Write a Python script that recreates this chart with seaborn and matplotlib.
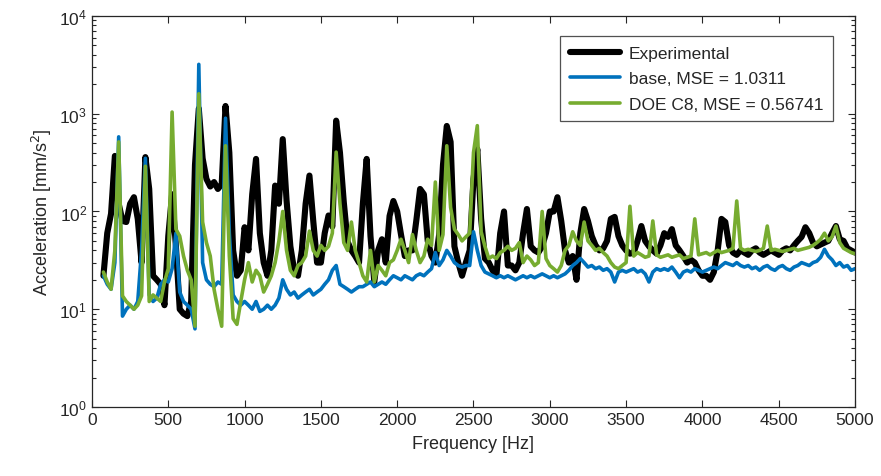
import numpy as np
import pandas as pd
import matplotlib
matplotlib.use("Agg")
import matplotlib.pyplot as plt
import seaborn as sns

# Frequency grid [Hz]
freq = list(range(75, 5001, 25))

experimental = [
    22, 60, 95, 370, 120, 80, 78, 120, 140, 84, 30, 360, 170, 22, 20, 18, 11, 56, 150, 44,
    10, 9, 8.5, 12, 300, 1130, 350, 215, 180, 200, 170, 190, 1200, 400, 40, 22, 25, 69, 40, 150,
    345, 60, 30, 22, 40, 184, 120, 550, 130, 44, 25, 22, 40, 120, 233, 80, 30, 30, 60, 91,
    70, 850, 400, 125, 49, 40, 35, 30, 120, 345, 56, 19, 40, 52, 30, 90, 128, 100, 58, 35,
    40, 40, 80, 170, 150, 50, 35, 30, 58, 300, 750, 515, 44, 30, 22, 30, 40, 215, 435, 84,
    33, 30, 25, 22, 60, 100, 28, 28, 25, 30, 60, 106, 44, 40, 38, 44, 60, 100, 100, 140,
    80, 40, 30, 35, 20, 60, 106, 80, 56, 45, 40, 42, 50, 84, 88, 56, 45, 40, 37, 38,
    50, 71, 50, 44, 40, 37, 45, 60, 55, 66, 45, 40, 35, 30, 32, 30, 25, 22, 22, 20,
    24, 40, 84, 78, 45, 38, 36, 40, 38, 36, 40, 42, 38, 36, 38, 40, 38, 36, 40, 42,
    40, 45, 50, 55, 69, 60, 48, 44, 46, 48, 50, 60, 71, 52, 50, 42, 40, 38,
]

base = [
    22, 18, 16, 30, 580, 8.5, 10, 11, 10, 12, 40, 350, 14, 12, 13, 18, 20, 19, 26, 60,
    15, 12, 11, 10, 6.3, 3200, 30, 20, 18, 17, 19, 18, 900, 60, 14, 12, 11, 12, 11, 10,
    12, 9.5, 10, 11, 10, 11, 13, 20, 16, 14, 15, 13, 14, 15, 16, 14, 15, 16, 18, 20,
    25, 28, 18, 17, 16, 15, 16, 17, 17, 18, 19, 17, 18, 19, 18, 20, 22, 21, 20, 22,
    21, 20, 22, 23, 22, 24, 26, 38, 28, 32, 40, 35, 30, 28, 27, 28, 28, 62, 40, 28,
    24, 23, 22, 21, 22, 21, 22, 21, 20, 21, 22, 21, 22, 21, 22, 23, 22, 21, 22, 21,
    22, 23, 25, 28, 30, 33, 30, 27, 28, 26, 27, 25, 26, 24, 19, 24, 25, 24, 25, 26,
    24, 25, 23, 19, 24, 26, 25, 26, 25, 27, 24, 21, 24, 25, 24, 26, 25, 24, 25, 26,
    27, 26, 28, 30, 29, 28, 30, 28, 27, 28, 26, 27, 25, 27, 28, 26, 25, 27, 28, 26,
    25, 27, 28, 30, 29, 28, 30, 31, 34, 41, 35, 32, 28, 30, 27, 28, 25, 26,
]

doe_c8 = [
    24, 19, 16, 40, 515, 13.7, 12, 11, 10, 11, 13.7, 290, 12, 14, 13, 12, 19, 26, 1040, 66,
    56, 35, 25, 20, 6.7, 1600, 78, 48, 35, 16, 10, 6.7, 470, 35, 8, 7, 12, 20, 30, 19,
    25, 22, 15, 18, 22, 30, 50, 100, 40, 25, 22, 28, 30, 35, 63, 40, 35, 45, 40, 44,
    60, 405, 120, 48, 40, 78, 40, 30, 22, 19, 40, 19, 28, 25, 22, 30, 32, 40, 52, 40,
    30, 58, 40, 30, 35, 52, 45, 200, 40, 58, 470, 110, 66, 58, 50, 55, 60, 400, 755, 62,
    44, 33, 35, 33, 38, 40, 44, 40, 42, 48, 30, 35, 32, 28, 30, 100, 33, 28, 26, 24,
    28, 40, 45, 62, 50, 45, 78, 50, 45, 40, 42, 38, 35, 30, 27, 26, 28, 30, 113, 35,
    38, 36, 34, 35, 80, 36, 34, 35, 36, 34, 35, 36, 33, 34, 35, 84, 36, 37, 38, 36,
    38, 40, 38, 39, 40, 42, 128, 42, 40, 41, 40, 39, 40, 42, 71, 40, 41, 40, 39, 40,
    41, 42, 40, 41, 42, 43, 45, 48, 52, 60, 50, 55, 71, 48, 42, 40, 38, 37,
]

labels = ["Experimental", "base, MSE = 1.0311", "DOE C8, MSE = 0.56741"]
colors = ["#000000", "#0072BD", "#77AC30"]
widths = [4.4, 2.6, 2.6]

sns.set_style("ticks")
plt.rcParams["font.family"] = ["Liberation Sans", "DejaVu Sans"]

fig = plt.figure(figsize=(8.81, 4.77), dpi=100)
ax = fig.add_axes([0.1044, 0.1447, 0.8661, 0.8197])

for vals, lab, col, lw in zip([experimental, base, doe_c8], labels, colors, widths):
    df = pd.DataFrame({"Frequency": freq, "Acceleration": vals})
    sns.lineplot(data=df, x="Frequency", y="Acceleration", ax=ax, color=col,
                 linewidth=lw, label=lab, estimator=None, sort=False)

ax.set_yscale("log")
ax.set_xlim(0, 5000)
ax.set_ylim(1, 1e4)
ax.set_xticks(range(0, 5001, 500))
ax.set_yticks([1, 10, 100, 1000, 10000])
ax.tick_params(direction="in", which="both", top=True, right=True,
               labelsize=12.5, colors="#262626", length=5, width=0.8)
ax.tick_params(which="minor", length=3)
ax.minorticks_on()
ax.xaxis.set_minor_locator(matplotlib.ticker.NullLocator())
for s in ax.spines.values():
    s.set_linewidth(0.9)
    s.set_color("#262626")

ax.set_xlabel("Frequency [Hz]", fontsize=13, labelpad=6)
ax.set_ylabel("Acceleration [mm/s$^2$]", fontsize=13, labelpad=4)

leg = ax.legend(loc="upper right", bbox_to_anchor=(0.971, 0.949), fontsize=12.5,
                frameon=True, fancybox=False, edgecolor="#262626",
                handlelength=2.9, handletextpad=0.5, borderpad=0.55,
                labelspacing=0.6, borderaxespad=0)
leg.get_frame().set_linewidth(0.9)

fig.savefig("out.png", dpi=100)
